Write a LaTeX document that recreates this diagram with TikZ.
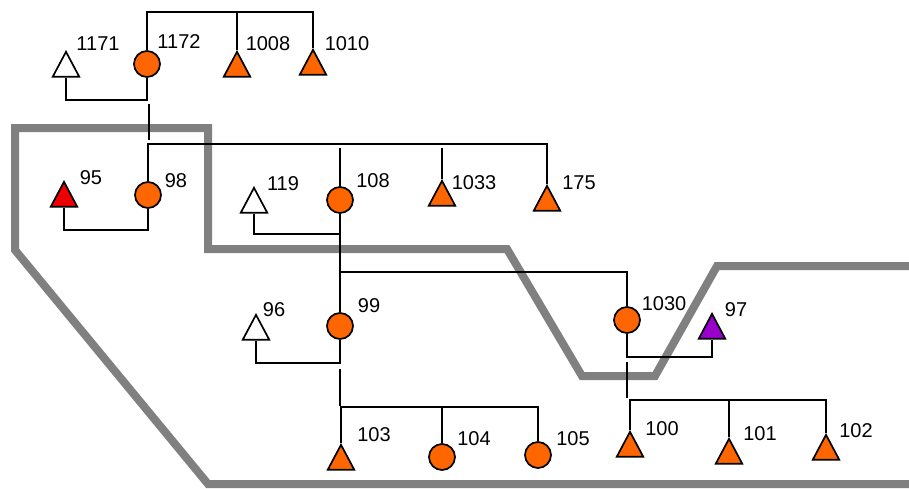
\documentclass[tikz,border=0pt]{standalone}
\usepackage{fontspec}
\setmainfont{Liberation Sans}
\usetikzlibrary{shapes.geometric}
\definecolor{nodeorange}{HTML}{FF6600}
\definecolor{nodered}{HTML}{EE0000}
\definecolor{nodepurple}{HTML}{9900CC}
\definecolor{zonegray}{HTML}{808080}
\tikzset{
  wire/.style={draw=black, line width=1.7pt},
  zone/.style={draw=zonegray, line width=8pt, line join=miter},
  circ/.style={circle, draw=black, line width=1.7pt, fill=nodeorange, minimum size=26pt, inner sep=0pt},
  tri/.style={isosceles triangle, isosceles triangle apex angle=56, shape border rotate=90,
    draw=black, line width=1.7pt, minimum width=25pt, minimum height=25pt, inner sep=0pt, anchor=apex},
  lbl/.style={inner sep=0pt, font=\fontsize{20}{24}\selectfont}
}
\begin{document}
\begin{tikzpicture}[x=1pt,y=-1pt]
\useasboundingbox[fill=white] (0,0) rectangle (909,488);
% zone boundary
\draw[zone] (915,266) -- (717,266) -- (655,376) -- (582,376) -- (507,249) -- (208,249)
  -- (208,128) -- (15,128) -- (15,250) -- (208,484) -- (915,484);

% circles
\node[circ] (n1172) at (147,64) {};
\node[circ] (n98) at (148,195) {};
\node[circ] (n108) at (340,200) {};
\node[circ] (n99) at (340,326) {};
\node[circ] (n1030) at (627,320) {};
\node[circ] (n104) at (442,457) {};
\node[circ] (n105) at (538,455) {};

% triangles
\node[tri, fill=white] (n1171) at (66,50) {};
\node[tri, fill=nodeorange] (n1008) at (237,50) {};
\node[tri, fill=nodeorange] (n1010) at (313,48) {};
\node[tri, fill=nodered] (n95) at (64,180) {};
\node[tri, fill=white] (n119) at (254,186) {};
\node[tri, fill=nodeorange] (n1033) at (442,179) {};
\node[tri, fill=nodeorange] (n175) at (547,184) {};
\node[tri, fill=nodepurple] (n97) at (712,312) {};
\node[tri, fill=white] (n96) at (256,313) {};
\node[tri, fill=nodeorange] (n103) at (341,443) {};
\node[tri, fill=nodeorange] (n100) at (630,430) {};
\node[tri, fill=nodeorange] (n101) at (729,437) {};
\node[tri, fill=nodeorange] (n102) at (826,433) {};

% labels
\node[lbl] (l1171) at (98,44) {1171};
\node[lbl] (l1172) at (179,42) {1172};
\node[lbl] (l1008) at (268,44) {1008};
\node[lbl] (l1010) at (347,44) {1010};
\node[lbl] (l95) at (91,178) {95};
\node[lbl] (l98) at (176,181) {98};
\node[lbl] (l119) at (283,184) {119};
\node[lbl] (l108) at (373,181) {108};
\node[lbl] (l1033) at (474,183) {1033};
\node[lbl] (l175) at (579,183) {175};
\node[lbl] (l1030) at (664,304) {1030};
\node[lbl] (l97) at (736,310) {97};
\node[lbl] (l96) at (274,310) {96};
\node[lbl] (l99) at (369,306) {99};
\node[lbl] (l103) at (374,435) {103};
\node[lbl] (l104) at (474,439) {104};
\node[lbl] (l105) at (573,439) {105};
\node[lbl] (l100) at (662,429) {100};
\node[lbl] (l101) at (760,434) {101};
\node[lbl] (l102) at (856,431) {102};

% junction coordinates
\coordinate (jtop) at (237,12);
\coordinate (seg1a) at (149,104);
\coordinate (seg1b) at (149,140);
\coordinate (b175) at (547,144);
\coordinate (b108) at (340,148);
\coordinate (b1033) at (442,148);
\coordinate (j108) at (340,234);
\coordinate (j272) at (340,272);
\coordinate (seg2a) at (340,369);
\coordinate (seg2b) at (340,406);
\coordinate (b104) at (442,407);
\coordinate (b105) at (538,407);
\coordinate (seg3a) at (627,362);
\coordinate (seg3b) at (627,398);
\coordinate (b101) at (729,400);
\coordinate (b102) at (826,400);

% connectors
\draw[wire] (n1172.north) |- (jtop) -| (n1010);
\draw[wire] (jtop) -- (n1008);
\draw[wire] (n1172.south) -- ++(0,22) -| (n1171);
\draw[wire] (seg1a) -- (seg1b);
\draw[wire] (n98.north) |- (b175) -- (n175);
\draw[wire] (b108) -- (n108);
\draw[wire] (b1033) -- (n1033);
\draw[wire] (n98.south) -- ++(0,21) -| (n95);
\draw[wire] (n108.south) -- (n99.north);
\draw[wire] (j108) -| (n119);
\draw[wire] (j272) -| (n1030.north);
\draw[wire] (n1030.south) -- ++(0,23) -| (n97);
\draw[wire] (n99.south) -- ++(0,23) -| (n96);
\draw[wire] (seg2a) -- (seg2b);
\draw[wire] (n103.apex) |- (b105) -- (n105);
\draw[wire] (b104) -- (n104);
\draw[wire] (seg3a) -- (seg3b);
\draw[wire] (n100.apex) |- (b102) -- (n102);
\draw[wire] (b101) -- (n101);
\end{tikzpicture}
\end{document}
